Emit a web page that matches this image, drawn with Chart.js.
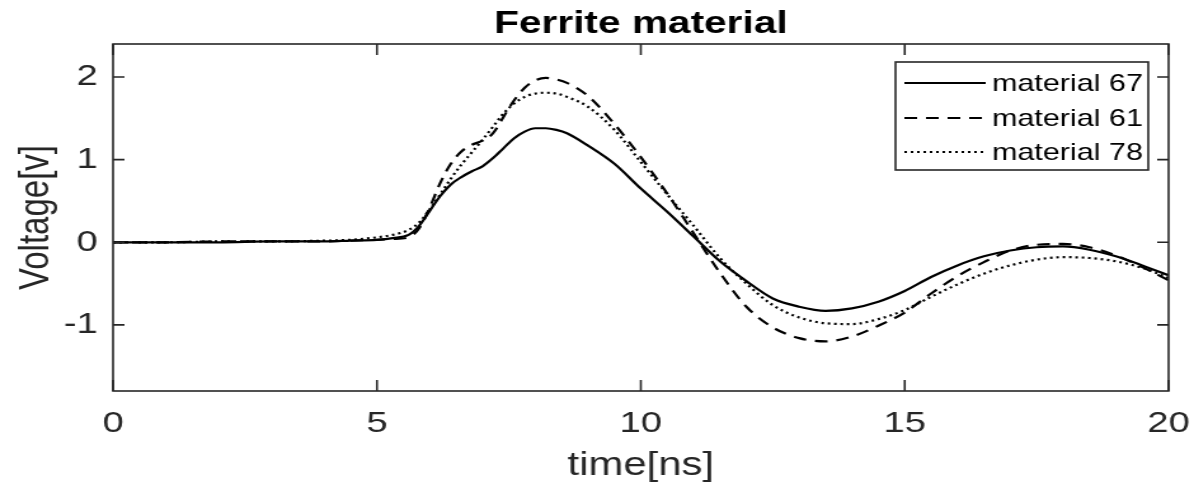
<!DOCTYPE html>
<html>
<head>
<meta charset="utf-8">
<script src="https://cdn.jsdelivr.net/npm/chart.js@4.4.0/dist/chart.umd.min.js"></script>
<style>
    html, body { margin: 0; padding: 0; background: #fff; }
</style>
</head>
<body>
<!-- drawn 940 wide and stretched sideways to 1194, like the source image -->
<canvas id="chart" width="940" height="488" style="display:block;width:1194px;height:488px"></canvas>
<script>
const timeNs = [0, 1, 2, 3, 4, 4.5, 5, 5.3, 5.6, 5.8, 6.0, 6.2, 6.4, 6.6, 6.8, 7.0, 7.2, 7.4, 7.6, 7.8,
    8.0, 8.2, 8.4, 8.6, 9.0, 9.5, 10, 10.5, 11, 11.5, 12, 12.5, 13, 13.5, 14, 14.5, 15, 15.5,
    16, 16.5, 17, 17.5, 18, 18.5, 19, 19.5, 20];

const material67 = [0, 0, 0, 0.01, 0.01, 0.02, 0.03, 0.05, 0.09, 0.20, 0.38, 0.56, 0.70, 0.79, 0.86, 0.92,
    1.02, 1.14, 1.26, 1.34, 1.38, 1.38, 1.36, 1.32, 1.17, 0.95, 0.65, 0.37, 0.07, -0.23, -0.47, -0.68,
    -0.78, -0.83, -0.80, -0.72, -0.59, -0.42, -0.28, -0.17, -0.10, -0.06, -0.05, -0.09, -0.17, -0.28, -0.40];

const material61 = [0, 0, 0.01, 0.01, 0.01, 0.02, 0.03, 0.04, 0.06, 0.17, 0.42, 0.72, 0.95, 1.10, 1.18, 1.23,
    1.32, 1.52, 1.72, 1.87, 1.96, 1.99, 1.97, 1.93, 1.77, 1.43, 1.03, 0.59, 0.11, -0.37, -0.78, -1.03,
    -1.16, -1.20, -1.14, -1.01, -0.85, -0.62, -0.41, -0.24, -0.10, -0.03, -0.02, -0.06, -0.16, -0.30, -0.46];

const material78 = [0, 0, 0.01, 0.01, 0.02, 0.03, 0.06, 0.09, 0.15, 0.24, 0.40, 0.58, 0.77, 0.94, 1.09, 1.24,
    1.40, 1.56, 1.68, 1.76, 1.80, 1.81, 1.80, 1.76, 1.64, 1.36, 0.97, 0.58, 0.20, -0.19, -0.50, -0.76,
    -0.91, -0.98, -0.99, -0.93, -0.82, -0.66, -0.51, -0.38, -0.28, -0.21, -0.18, -0.19, -0.23, -0.31, -0.43];

const seriesNames = ["material 67", "material 61", "material 78"];
const xTicks = [0, 5, 10, 15, 20];
const yTicks = [-1, 0, 1, 2];

const axisColor = "#262626";
const fontFamily = "'Liberation Sans', Arial, Helvetica, sans-serif";

function toPoints(values) {
    return values.map((v, i) => ({ x: timeNs[i], y: v }));
}

// box, inward ticks on all four sides and the legend inside the plot
const matlabFrame = {
    id: "matlabFrame",
    afterDraw(chart) {
        const { ctx, chartArea: a, scales: { x, y } } = chart;
        ctx.save();
        ctx.strokeStyle = axisColor;
        ctx.lineWidth = 1.6;
        ctx.setLineDash([]);
        ctx.strokeRect(a.left, a.top, a.right - a.left, a.bottom - a.top);

        ctx.beginPath();
        xTicks.forEach(v => {
            const px = x.getPixelForValue(v);
            ctx.moveTo(px, a.bottom);
            ctx.lineTo(px, a.bottom - 11);
            ctx.moveTo(px, a.top);
            ctx.lineTo(px, a.top + 11);
        });
        yTicks.forEach(v => {
            const py = y.getPixelForValue(v);
            ctx.moveTo(a.left, py);
            ctx.lineTo(a.left + 9, py);
            ctx.moveTo(a.right, py);
            ctx.lineTo(a.right - 9, py);
        });
        ctx.stroke();

        // legend
        const box = { left: 705, top: 62, right: 904, bottom: 170 };
        const rows = [83, 118, 152];
        ctx.fillStyle = "#fff";
        ctx.fillRect(box.left, box.top, box.right - box.left, box.bottom - box.top);
        ctx.lineWidth = 1.6;
        ctx.strokeRect(box.left, box.top, box.right - box.left, box.bottom - box.top);

        ctx.font = "24px " + fontFamily;
        ctx.textBaseline = "middle";
        ctx.textAlign = "left";
        chart.data.datasets.forEach((ds, i) => {
            ctx.strokeStyle = ds.borderColor;
            ctx.lineWidth = ds.borderWidth;
            ctx.setLineDash(ds.borderDash || []);
            ctx.beginPath();
            ctx.moveTo(712, rows[i]);
            ctx.lineTo(776, rows[i]);
            ctx.stroke();
            ctx.fillStyle = "#000";
            ctx.fillText(ds.label, 781, rows[i] + 1);
        });
        ctx.restore();
    }
};

const chart = new Chart(document.getElementById("chart"), {
    type: "line",
    data: {
        datasets: [
            {
                label: seriesNames[0],
                data: toPoints(material67),
                borderColor: "#000",
                borderWidth: 2.2,
                borderDash: []
            },
            {
                label: seriesNames[1],
                data: toPoints(material61),
                borderColor: "#000",
                borderWidth: 2.2,
                borderDash: [10, 7]
            },
            {
                label: seriesNames[2],
                data: toPoints(material78),
                borderColor: "#000",
                borderWidth: 2.2,
                borderDash: [2, 3]
            }
        ]
    },
    options: {
        responsive: false,
        animation: false,
        devicePixelRatio: 1,
        layout: { padding: 0 },
        elements: {
            point: { radius: 0 },
            line: { cubicInterpolationMode: "monotone", fill: false }
        },
        plugins: {
            legend: { display: false },
            tooltip: { enabled: false },
            title: {
                display: true,
                fullSize: false,
                text: "Ferrite material",
                color: "#000",
                font: { family: fontFamily, size: 32, weight: "bold", lineHeight: 1 },
                padding: { top: 8, bottom: 4 }
            }
        },
        scales: {
            x: {
                type: "linear",
                min: 0,
                max: 20,
                afterBuildTicks: scale => { scale.ticks = xTicks.map(v => ({ value: v })); },
                afterFit: scale => {
                    scale.height = 97;
                    scale.paddingRight = 20;
                },
                grid: { display: false, drawTicks: false },
                border: { display: false },
                ticks: {
                    color: axisColor,
                    padding: 15,
                    maxRotation: 0,
                    font: { family: fontFamily, size: 30 }
                },
                title: {
                    display: true,
                    text: "time[ns]",
                    color: axisColor,
                    font: { family: fontFamily, size: 33 },
                    padding: { top: 0, bottom: 2 }
                }
            },
            y: {
                min: -1.8,
                max: 2.4,
                afterBuildTicks: scale => { scale.ticks = yTicks.map(v => ({ value: v })); },
                afterFit: scale => { scale.width = 89; },
                grid: { display: false, drawTicks: false },
                border: { display: false },
                ticks: {
                    color: axisColor,
                    padding: 12,
                    font: { family: fontFamily, size: 30 }
                },
                title: {
                    display: true,
                    text: "Voltage[v]",
                    color: axisColor,
                    font: { family: fontFamily, size: 33 },
                    padding: { top: 9, bottom: 0 }
                }
            }
        }
    },
    plugins: [matlabFrame]
});
</script>
</body>
</html>
